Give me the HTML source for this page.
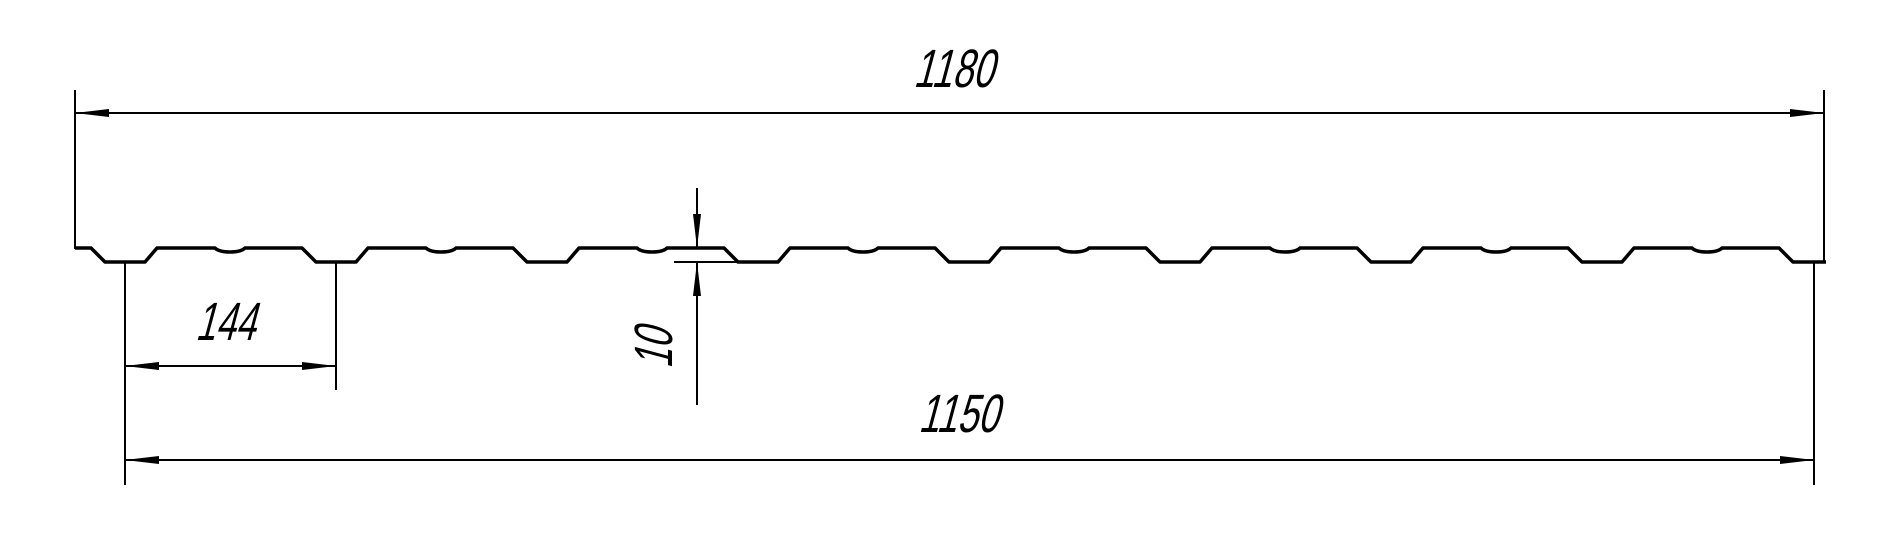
<!DOCTYPE html>
<html><head><meta charset="utf-8"><style>html,body{margin:0;padding:0;background:#fff}svg{display:block}</style></head><body>
<svg width="1904" height="555" viewBox="0 0 1904 555" xmlns="http://www.w3.org/2000/svg">
<defs>
<marker id="a" viewBox="0 0 34 10" refX="34" refY="5" markerWidth="34" markerHeight="10" markerUnits="userSpaceOnUse" orient="auto-start-reverse"><path d="M0,1 L34,5 L0,9 Z" fill="#000"/></marker>
</defs>
<g stroke="#000" stroke-width="2" fill="none">
<line x1="75" y1="90" x2="75" y2="249"/>
<line x1="1824" y1="90" x2="1824" y2="262"/>
<line x1="75" y1="113" x2="1824" y2="113" marker-start="url(#a)" marker-end="url(#a)"/>
<line x1="125" y1="262" x2="125" y2="485"/>
<line x1="336" y1="262" x2="336" y2="390"/>
<line x1="1814" y1="262" x2="1814" y2="485"/>
<line x1="125" y1="366" x2="336" y2="366" marker-start="url(#a)" marker-end="url(#a)"/>
<line x1="125" y1="460" x2="1814" y2="460" marker-start="url(#a)" marker-end="url(#a)"/>
<line x1="697" y1="188" x2="697" y2="248" marker-end="url(#a)"/>
<line x1="697" y1="405" x2="697" y2="262" marker-end="url(#a)"/>
<line x1="674" y1="262" x2="737" y2="262"/>
</g>
<path stroke="#000" stroke-width="3.5" fill="none" stroke-linejoin="round" d="
M75,248 L91,248 L105,262 L145,262 L157,248
L215,248 Q219,252 230,252 Q241,252 245,248
L302,248 L316,262 L356,262 L368,248
L426,248 Q430,252 441,252 Q452,252 456,248
L513,248 L527,262 L567,262 L579,248
L637,248 Q641,252 652,252 Q663,252 667,248
L724,248 L738,262 L778,262 L790,248
L848,248 Q852,252 863,252 Q874,252 878,248
L935,248 L949,262 L989,262 L1001,248
L1059,248 Q1063,252 1074,252 Q1085,252 1089,248
L1146,248 L1160,262 L1200,262 L1212,248
L1270,248 Q1274,252 1285,252 Q1296,252 1300,248
L1357,248 L1371,262 L1411,262 L1423,248
L1481,248 Q1485,252 1496,252 Q1507,252 1511,248
L1568,248 L1582,262 L1622,262 L1634,248
L1692,248 Q1696,252 1707,252 Q1718,252 1722,248
L1779,248 L1793,262 L1826,262"/>
<g font-family="Liberation Sans, sans-serif" font-size="54" fill="#000" font-weight="normal">
<text x="0" y="0" transform="translate(913,87) skewX(-15)" textLength="80" lengthAdjust="spacingAndGlyphs">1180</text>
<text x="0" y="0" transform="translate(918,432) skewX(-15)" textLength="80" lengthAdjust="spacingAndGlyphs">1150</text>
<text x="0" y="0" transform="translate(195,340) skewX(-15)" textLength="60" lengthAdjust="spacingAndGlyphs">144</text>
<text x="0" y="0" transform="translate(672,369) rotate(-90) skewX(-15)" textLength="40" lengthAdjust="spacingAndGlyphs">10</text>
</g>
</svg>
</body></html>
